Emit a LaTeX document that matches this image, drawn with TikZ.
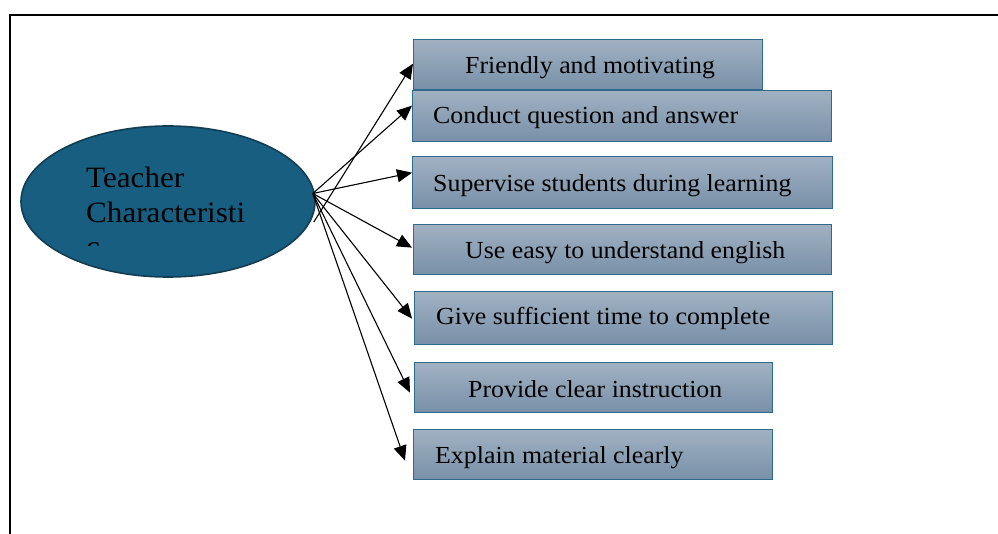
\documentclass[tikz,border=0pt]{standalone}
\usepackage{fontspec}
\setmainfont[FakeStretch=1.055]{Liberation Serif}
\usetikzlibrary{arrows.meta,calc,shapes.geometric}
\definecolor{ovalfill}{HTML}{175E80}
\definecolor{ovaledge}{HTML}{123D52}
\definecolor{boxtop}{HTML}{A1B1C2}
\definecolor{boxbot}{HTML}{7890A8}
\definecolor{boxedge}{HTML}{2E6B8D}
\tikzset{
  itembox/.style={draw=boxedge, line width=1.3pt, top color=boxtop, bottom color=boxbot,
    inner sep=0pt, anchor=north west},
  itemtext/.style={anchor=base west, inner sep=0pt, font=\fontsize{24.5}{28}\selectfont},
  ovaltext/.style={anchor=base west, inner sep=0pt, font=\fontsize{29.5}{34}\selectfont},
  link/.style={line width=1.1pt, -{Triangle[length=15pt,width=13pt]}},
}
\begin{document}
\begin{tikzpicture}[x=1pt,y=-1pt]
\useasboundingbox (0,0) rectangle (998,534);
% open frame
\draw[line width=2.2pt] (10,540) -- (10,15) -- (1000,15);
% central oval
\node[ellipse, draw=ovaledge, line width=1.6pt, fill=ovalfill, minimum width=294pt,
  minimum height=151pt, inner sep=0pt] (tc) at (168,201.5) {};
\node[ovaltext] (tl1) at (86,188) {Teacher};
\node[ovaltext] (tl2) at (86,223) {Characteristi};
\begin{scope}
  \clip (80,238) rectangle (260,245.5);
  \node[ovaltext] (tl3) at (86,256.5) {c};
\end{scope}
% item boxes
\node[itembox, minimum width=349pt, minimum height=50pt] (b1) at (413,39) {};
\node[itembox, minimum width=419pt, minimum height=51pt] (b2) at (412,90) {};
\node[itembox, minimum width=420pt, minimum height=52pt] (b3) at (412,156) {};
\node[itembox, minimum width=418pt, minimum height=50pt] (b4) at (413,224) {};
\node[itembox, minimum width=418pt, minimum height=53pt] (b5) at (414,291) {};
\node[itembox, minimum width=358pt, minimum height=50pt] (b6) at (414,362) {};
\node[itembox, minimum width=359pt, minimum height=50pt] (b7) at (413,429) {};
% item texts
\node[itemtext] (t1) at (465,74) {Friendly and motivating};
\node[itemtext] (t2) at (433,124) {Conduct question and answer};
\node[itemtext] (t3) at (433,192) {Supervise students during learning};
\node[itemtext] (t4) at (465,259) {Use easy to understand english};
\node[itemtext] (t5) at (436,325) {Give sufficient time to complete};
\node[itemtext] (t6) at (468,397) {Provide clear instruction};
\node[itemtext] (t7) at (435,463) {Explain material clearly};
% connectors
\coordinate (sa) at ([xshift=-2pt,yshift=-20.5pt]tc.east);
\coordinate (sb) at ([xshift=-3pt,yshift=8pt]tc.east);
\draw[link] (sa) -- ([yshift=1pt]b1.west);
\draw[link] (sb) -- ([yshift=10.5pt]b2.west);
\draw[link] (sb) -- ([yshift=10pt]b3.west);
\draw[link] (sb) -- ([yshift=2pt,xshift=-1pt]b4.west);
\draw[link] (sb) -- ([yshift=-0.5pt,xshift=-2pt]b5.west);
\draw[link] (sb) -- ([yshift=-5pt,xshift=-4pt]b6.west);
\draw[link] (sb) -- ([yshift=-6pt,xshift=-8pt]b7.west);
\end{tikzpicture}
\end{document}
